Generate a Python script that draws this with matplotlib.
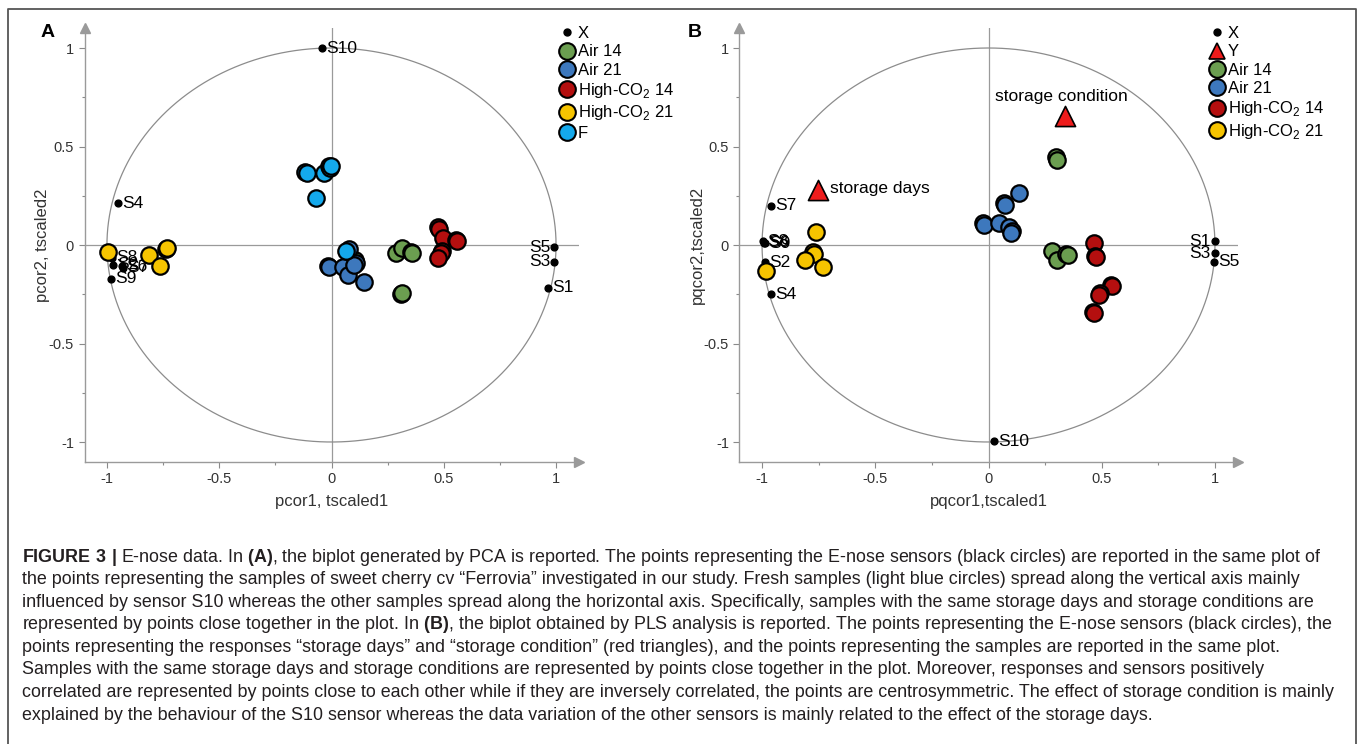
import numpy as np
import matplotlib
matplotlib.use('Agg')
import matplotlib.pyplot as plt
from matplotlib.lines import Line2D

plt.rcParams['font.family'] = ['Liberation Sans', 'DejaVu Sans']
plt.rcParams['mathtext.fontset'] = 'custom'
plt.rcParams['mathtext.rm'] = 'Liberation Sans'
plt.rcParams['mathtext.bf'] = 'Liberation Sans:bold'
plt.rcParams['axes.unicode_minus'] = False

# ---- data ----
group_names = ['Air 14', 'Air 21', 'High-CO$_2$ 14', 'High-CO$_2$ 21', 'F']
group_colors = ['#6B9E50', '#3D78BD', '#B40F0F', '#F6C400', '#14A9EC']

# panel A (PCA)
a_sensor_names = ['S1', 'S2', 'S3', 'S4', 'S5', 'S6', 'S7', 'S8', 'S9', 'S10']
a_sensor_x = [0.966, -0.975, 0.992, -0.951, 0.992, -0.935, -0.930, -0.978, -0.981, -0.041]
a_sensor_y = [-0.217, -0.100, -0.085, 0.211, -0.012, -0.108, -0.115, -0.065, -0.171, 1.000]
a_label_left = ['S3', 'S5']

a_air14_x = [0.105, 0.286, 0.315, 0.352, 0.360, 0.309, 0.313]
a_air14_y = [-0.075, -0.041, -0.014, -0.036, -0.039, -0.251, -0.246]
a_air21_x = [0.080, -0.015, -0.009, 0.051, 0.073, 0.107, 0.102, 0.145]
a_air21_y = [-0.020, -0.107, -0.112, -0.112, -0.154, -0.090, -0.100, -0.188]
a_hco14_x = [0.473, 0.478, 0.497, 0.554, 0.559, 0.492, 0.488, 0.475]
a_hco14_y = [0.092, 0.080, 0.037, 0.025, 0.020, -0.032, -0.039, -0.065]
a_hco21_x = [-0.996, -0.812, -0.765, -0.736, -0.733]
a_hco21_y = [-0.034, -0.051, -0.107, -0.019, -0.015]
a_fresh_x = [-0.119, -0.110, -0.032, -0.011, -0.008, -0.002, -0.068, 0.064]
a_fresh_y = [0.372, 0.368, 0.368, 0.399, 0.390, 0.402, 0.238, -0.032]

# panel B (PLS)
b_sensor_names = ['S1', 'S2', 'S3', 'S4', 'S5', 'S6', 'S7', 'S8', 'S9', 'S10']
b_sensor_x = [0.999, -0.988, 0.999, -0.960, 0.997, -0.990, -0.960, -0.995, -0.985, 0.023]
b_sensor_y = [0.020, -0.088, -0.042, -0.251, -0.085, 0.012, 0.199, 0.018, 0.010, -0.997]
b_label_left = ['S1', 'S3']

b_resp_names = ['storage days', 'storage condition']
b_resp_x = [-0.751, 0.336]
b_resp_y = [0.280, 0.657]

b_air14_x = [0.300, 0.304, 0.282, 0.304, 0.342, 0.351]
b_air14_y = [0.447, 0.433, -0.029, -0.076, -0.048, -0.051]
b_air21_x = [0.135, 0.069, 0.072, -0.023, -0.020, 0.045, 0.092, 0.103, 0.101]
b_air21_y = [0.263, 0.212, 0.205, 0.110, 0.103, 0.110, 0.093, 0.073, 0.063]
b_hco14_x = [0.466, 0.469, 0.473, 0.539, 0.544, 0.492, 0.487, 0.460, 0.464]
b_hco14_y = [0.008, -0.056, -0.060, -0.204, -0.210, -0.246, -0.252, -0.340, -0.345]
b_hco21_x = [-0.762, -0.776, -0.770, -0.809, -0.732, -0.984]
b_hco21_y = [0.065, -0.037, -0.045, -0.076, -0.110, -0.132]

ticks = [-1, -0.5, 0, 0.5, 1]
tick_labels = ['-1', '-0.5', '0', '0.5', '1']

caption = [
    r'$\mathbf{FIGURE\ 3\ |}$ E-nose data. In $\mathbf{(A)}$, the biplot generated by PCA is reported. The points representing the E-nose sensors (black circles) are reported in the same plot of',
    'the points representing the samples of sweet cherry cv \u201cFerrovia\u201d investigated in our study. Fresh samples (light blue circles) spread along the vertical axis mainly',
    'influenced by sensor S10 whereas the other samples spread along the horizontal axis. Specifically, samples with the same storage days and storage conditions are',
    r'represented by points close together in the plot. In $\mathbf{(B)}$, the biplot obtained by PLS analysis is reported. The points representing the E-nose sensors (black circles), the',
    'points representing the responses \u201cstorage days\u201d and \u201cstorage condition\u201d (red triangles), and the points representing the samples are reported in the same plot.',
    'Samples with the same storage days and storage conditions are represented by points close together in the plot. Moreover, responses and sensors positively',
    'correlated are represented by points close to each other while if they are inversely correlated, the points are centrosymmetric. The effect of storage condition is mainly',
    'explained by the behaviour of the S10 sensor whereas the data variation of the other sensors is mainly related to the effect of the storage days.',
]

W, H = 1357, 744
fig = plt.figure(figsize=(W / 100, H / 100), dpi=100)

# caption / frame layer in pixel coordinates
cap = fig.add_axes([0, 0, 1, 1])
cap.set_xlim(0, W)
cap.set_ylim(H, 0)
cap.axis('off')
cap.plot([7.5, 7.5, 1355.5, 1355.5], [H, 8.5, 8.5, H], color='#555555', lw=1.3, clip_on=False)
for i, line in enumerate(caption):
    cap.text(22, 557 + i * 22.6, line, fontsize=12.9, color='#231F20', va='center', ha='left')


def px_axes(left, top, right, bottom):
    return fig.add_axes([left / W, 1 - bottom / H, (right - left) / W, (bottom - top) / H])


SAMPLE_S = 140
SAMPLE_LW = 1.6


def setup(ax, xlabel, ylabel, letter, letter_x):
    ax.set_xlim(-1.1, 1.1)
    ax.set_ylim(-1.1, 1.1)
    for s in ['top', 'right']:
        ax.spines[s].set_visible(False)
    for s in ['left', 'bottom']:
        ax.spines[s].set_color('#9A9A9A')
        ax.spines[s].set_linewidth(1.0)
    ax.set_xticks(ticks)
    ax.set_xticklabels(tick_labels)
    ax.set_yticks(ticks)
    ax.set_yticklabels(tick_labels)
    ax.set_xticks([-0.75, -0.25, 0.25, 0.75], minor=True)
    ax.set_yticks([-0.75, -0.25, 0.25, 0.75], minor=True)
    ax.tick_params(which='major', direction='out', length=4, width=0.8, color='#8A8A8A',
                   labelsize=10.5, labelcolor='#333333')
    ax.tick_params(which='minor', direction='out', length=2.5, width=0.8, color='#8A8A8A')
    ax.plot([0], [1], marker='^', markersize=7, color='#9A9A9A', transform=ax.transAxes, clip_on=False)
    ax.plot([1], [0], marker='>', markersize=7, color='#9A9A9A', transform=ax.transAxes, clip_on=False)
    ax.axhline(0, color='#9A9A9A', lw=0.9, zorder=1)
    ax.axvline(0, color='#9A9A9A', lw=0.9, zorder=1)
    t = np.linspace(0, 2 * np.pi, 400)
    ax.plot(np.cos(t), np.sin(t), color='#8C8C8C', lw=0.9, zorder=1)
    ax.set_xlabel(xlabel, fontsize=12, color='#333333', labelpad=6)
    ax.set_ylabel(ylabel, fontsize=12, color='#333333', labelpad=-1)
    ax.text(letter_x, 0.991, letter, transform=ax.transAxes, fontsize=14, fontweight='bold',
            va='center', ha='center')


def sensors(ax, names, xs, ys, left_names):
    ax.scatter(xs, ys, s=24, color='black', zorder=3)
    for n, x, y in zip(names, xs, ys):
        if n in left_names:
            ax.annotate(n, (x, y), xytext=(-3, 0), textcoords='offset points',
                        ha='right', va='center', fontsize=12.5, zorder=3)
        else:
            ax.annotate(n, (x, y), xytext=(3, 0), textcoords='offset points',
                        ha='left', va='center', fontsize=12.5, zorder=3)


def samples(ax, xs, ys, color):
    ax.scatter(xs, ys, s=SAMPLE_S, color=color, edgecolor='black', linewidth=SAMPLE_LW, zorder=4)


def legend_handles(with_y, names, colors):
    h = [Line2D([], [], marker='o', ls='', markersize=5, color='black', label='X')]
    if with_y:
        h.append(Line2D([], [], marker='^', ls='', markersize=12, markerfacecolor='#EE1C1C',
                        markeredgecolor='black', markeredgewidth=1.2, label='Y'))
    for n, c in zip(names, colors):
        h.append(Line2D([], [], marker='o', ls='', markersize=12, markerfacecolor=c,
                        markeredgecolor='black', markeredgewidth=1.5, label=n))
    return h


# ---- panel A ----
axA = px_axes(84.5, 28.3, 578.5, 461.7)
setup(axA, 'pcor1, tscaled1', 'pcor2, tscaled2', 'A', -0.074)
sensors(axA, a_sensor_names, a_sensor_x, a_sensor_y, a_label_left)
samples(axA, a_air14_x, a_air14_y, group_colors[0])
samples(axA, a_air21_x, a_air21_y, group_colors[1])
samples(axA, a_hco14_x, a_hco14_y, group_colors[2])
samples(axA, a_hco21_x, a_hco21_y, group_colors[3])
samples(axA, a_fresh_x, a_fresh_y, group_colors[4])
axA.legend(handles=legend_handles(False, group_names, group_colors), loc='upper left',
           bbox_to_anchor=(558.5 / W, 1 - 26 / H), bbox_transform=fig.transFigure,
           frameon=False, borderpad=0, borderaxespad=0, handlelength=1.0,
           handletextpad=0.15, labelspacing=0.2, fontsize=12)

# ---- panel B ----
axB = px_axes(739.4, 28.3, 1237.6, 461.7)
setup(axB, 'pqcor1,tscaled1', 'pqcor2,tscaled2', 'B', -0.089)
sensors(axB, b_sensor_names, b_sensor_x, b_sensor_y, b_label_left)
samples(axB, b_air14_x, b_air14_y, group_colors[0])
samples(axB, b_air21_x, b_air21_y, group_colors[1])
samples(axB, b_hco14_x, b_hco14_y, group_colors[2])
samples(axB, b_hco21_x, b_hco21_y, group_colors[3])
axB.scatter(b_resp_x, b_resp_y, s=210, marker='^', color='#EE1C1C', edgecolor='black',
            linewidth=1.2, zorder=5)
axB.annotate(b_resp_names[0], (b_resp_x[0], b_resp_y[0]), xytext=(8, 1), textcoords='offset points',
             ha='left', va='center', fontsize=12.5)
axB.annotate(b_resp_names[1], (b_resp_x[1], b_resp_y[1]), xytext=(-2, 14), textcoords='offset points',
             ha='center', va='center', fontsize=12.5)
axB.legend(handles=legend_handles(True, group_names[:4], group_colors[:4]), loc='upper left',
           bbox_to_anchor=(1208.5 / W, 1 - 26 / H), bbox_transform=fig.transFigure,
           frameon=False, borderpad=0, borderaxespad=0, handlelength=1.0,
           handletextpad=0.15, labelspacing=0.2, fontsize=12)

fig.savefig('out.png', dpi=100)
